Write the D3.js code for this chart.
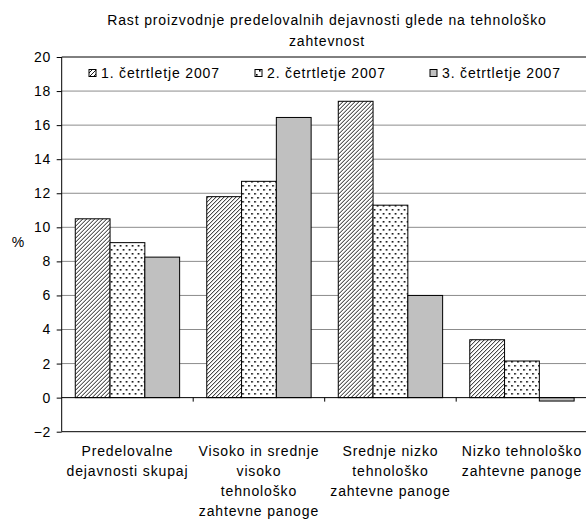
<!DOCTYPE html>
<html><head><meta charset="utf-8">
<script src="https://cdn.jsdelivr.net/npm/d3@7"></script>
<style>
html,body{margin:0;padding:0;background:#fff;}
svg{display:block;font-family:"Liberation Sans",Arial,Helvetica,sans-serif;}
</style></head>
<body>
<script>
const titleLines = ["Rast proizvodnje predelovalnih dejavnosti glede na tehnološko", "zahtevnost"];
const categories = ["Predelovalne dejavnosti skupaj", "Visoko in srednje visoko tehnološko zahtevne panoge", "Srednje nizko tehnološko zahtevne panoge", "Nizko tehnološko zahtevne panoge"];
const categoryLines = [
  ["Predelovalne", "dejavnosti skupaj"],
  ["Visoko in srednje", "visoko", "tehnološko", "zahtevne panoge"],
  ["Srednje nizko", "tehnološko", "zahtevne panoge"],
  ["Nizko tehnološko", "zahtevne panoge"]
];
const seriesNames = ["1. četrtletje 2007", "2. četrtletje 2007", "3. četrtletje 2007"];
const q1 = [10.5, 11.8, 17.4, 3.4];
const q2 = [9.1, 12.7, 11.3, 2.15];
const q3 = [8.25, 16.45, 6.0, -0.2];
const yTicks = [-2, 0, 2, 4, 6, 8, 10, 12, 14, 16, 18, 20];
const yLabel = "%";

(function () {
const W = 586, H = 523;
const mLeft = 61.7, mRight = 587.7, mTop = 57, mBottom = 431.7;
const FS = 14, LS = 0.85;

const svg = d3.select("body").append("svg").attr("width", W).attr("height", H);
const defs = svg.append("defs");

const hatch = defs.append("pattern").attr("id", "hatch").attr("patternUnits", "userSpaceOnUse")
  .attr("width", 4).attr("height", 4);
hatch.append("rect").attr("width", 4).attr("height", 4).attr("fill", "#fff");
hatch.append("path").attr("d", "M-1,1 l2,-2 M0,4 l4,-4 M3,5 l2,-2")
  .attr("stroke", "#000").attr("stroke-width", 0.9);

const dots = defs.append("pattern").attr("id", "dots").attr("patternUnits", "userSpaceOnUse")
  .attr("width", 6).attr("height", 8);
dots.append("rect").attr("width", 6).attr("height", 8).attr("fill", "#fff");
dots.append("rect").attr("x", 1).attr("y", 1).attr("width", 1.6).attr("height", 1.6).attr("fill", "#000");
dots.append("rect").attr("x", 4).attr("y", 5).attr("width", 1.6).attr("height", 1.6).attr("fill", "#000");

const fills = ["url(#hatch)", "url(#dots)", "#c0c0c0"];
const seriesValues = [q1, q2, q3];

const y = d3.scaleLinear().domain([-2, 20]).range([mBottom, mTop]);
const x0 = d3.scaleBand().domain(categories).range([mLeft, mRight]).padding(0);
const x1 = d3.scaleBand().domain(seriesNames).range([0, x0.bandwidth()]).paddingInner(0).paddingOuter(0.39);

svg.append("g").selectAll("line").data(yTicks.filter(t => t !== 0 && t !== -2 && t !== 20)).join("line")
  .attr("x1", mLeft).attr("x2", mRight).attr("y1", d => y(d)).attr("y2", d => y(d))
  .attr("stroke", "#8c8c8c").attr("stroke-width", 1);

svg.append("line").attr("x1", mLeft).attr("x2", mRight).attr("y1", y(20)).attr("y2", y(20)).attr("stroke", "#000");
svg.append("line").attr("x1", mLeft).attr("x2", mRight).attr("y1", y(-2)).attr("y2", y(-2)).attr("stroke", "#000");

const groups = svg.append("g").selectAll("g").data(categories).join("g")
  .attr("transform", d => `translate(${x0(d)},0)`);
groups.selectAll("rect").data((c, i) => seriesNames.map((s, j) => ({s, j, v: seriesValues[j][i]}))).join("rect")
  .attr("x", d => x1(d.s)).attr("width", x1.bandwidth())
  .attr("y", d => y(Math.max(0, d.v))).attr("height", d => Math.abs(y(d.v) - y(0)))
  .attr("fill", d => fills[d.j]).attr("stroke", "#000").attr("stroke-width", 1);

svg.append("line").attr("x1", mLeft).attr("x2", mRight).attr("y1", y(0)).attr("y2", y(0)).attr("stroke", "#000");
svg.append("g").selectAll("line").data(categories.slice(1)).join("line")
  .attr("x1", d => x0(d)).attr("x2", d => x0(d)).attr("y1", y(0)).attr("y2", y(0) + 4).attr("stroke", "#000");

const yAxis = d3.axisLeft(y).tickValues(yTicks).tickSize(5).tickPadding(6).tickFormat(d3.format("d"));
const ga = svg.append("g").attr("transform", `translate(${mLeft},0)`).call(yAxis);
ga.select(".domain").attr("stroke", "#000").attr("d", `M0,${mTop}V${mBottom}`);
ga.selectAll(".tick line").attr("stroke", "#000");
ga.selectAll(".tick text").attr("font-size", FS).attr("fill", "#000").attr("letter-spacing", 0.5)
  .style("font-family", '"Liberation Sans",Arial,sans-serif');

svg.append("text").attr("x", 18).attr("y", 242).attr("text-anchor", "middle").attr("dy", "0.35em")
  .attr("font-size", FS).text(yLabel);

svg.append("g").selectAll("text").data(titleLines).join("text")
  .attr("x", 327).attr("y", (d, i) => 25 + i * 20.5).attr("text-anchor", "middle")
  .attr("font-size", FS).attr("letter-spacing", LS).text(d => d);

const cl = svg.append("g").selectAll("g").data(categories).join("g")
  .attr("transform", d => `translate(${x0(d) + x0.bandwidth() / 2},0)`);
cl.selectAll("text").data((c, i) => categoryLines[i]).join("text")
  .attr("x", 0).attr("y", (d, i) => 456 + i * 20).attr("text-anchor", "middle")
  .attr("font-size", FS).attr("letter-spacing", LS).text(d => d);

const legendX = [89, 255, 430];
const lg = svg.append("g").selectAll("g").data(seriesNames).join("g")
  .attr("transform", (d, i) => `translate(${legendX[i]},73)`);
lg.append("rect").attr("x", 0).attr("y", -3.5).attr("width", 7).attr("height", 7)
  .attr("fill", (d, i) => fills[i]).attr("stroke", "#000").attr("stroke-width", 1);
lg.append("text").attr("x", 12).attr("y", 0).attr("dy", "0.35em").attr("font-size", FS)
  .attr("letter-spacing", LS).text(d => d);
})();
</script>
</body></html>
